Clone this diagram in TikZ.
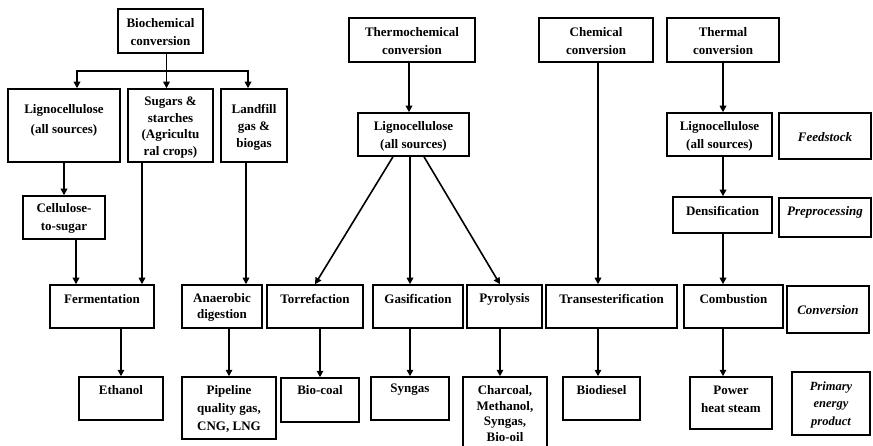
\documentclass[tikz,border=0pt]{standalone}
\usepackage{fontspec}
\setmainfont{Liberation Serif}
\usetikzlibrary{arrows.meta}

\begin{document}
\begin{tikzpicture}[x=1pt, y=-1pt,
  box/.style={draw, line width=1.5pt, inner sep=0pt},
  txt/.style={font=\bfseries\fontsize{13}{18}\selectfont, align=center, inner sep=0pt},
  itx/.style={font=\bfseries\itshape\fontsize{13}{18}\selectfont, align=center, inner sep=0pt},
  link/.style={line width=1.6pt},
  arr/.style={line width=1.6pt, -{Triangle[length=6.5pt, width=6.5pt]}}
]
\useasboundingbox (0,0) rectangle (873,446);

% ---------- top row: conversion routes ----------
\node[box, minimum width=85pt, minimum height=44pt] (bio) at (160.5,31) {};
\node[txt] (bio-t) at (160.5,32.5) {Biochemical\\conversion};

\node[box, minimum width=126pt, minimum height=44pt] (thermo) at (412,40) {};
\node[txt] (thermo-t) at (412,41) {Thermochemical\\conversion};

\node[box, minimum width=114pt, minimum height=44pt] (chem) at (596,40) {};
\node[txt] (chem-t) at (596,41) {Chemical\\conversion};

\node[box, minimum width=112pt, minimum height=44pt] (thermal) at (723,40) {};
\node[txt] (thermal-t) at (723,41) {Thermal\\conversion};

% ---------- feedstock ----------
\node[box, minimum width=112pt, minimum height=73pt] (lig1) at (64,125.5) {};
\node[txt, font=\bfseries\fontsize{13}{20}\selectfont] (lig1-t) at (64,120) {Lignocellulose\\(all sources)};

\node[box, minimum width=85pt, minimum height=73pt] (sugar) at (170.5,125.5) {};
\node[txt, font=\bfseries\fontsize{13}{16.5}\selectfont] (sugar-t) at (170.5,127.5) {Sugars \&\\starches\\(Agricultu\\ral crops)};

\node[box, minimum width=66pt, minimum height=73pt] (land) at (254,125.5) {};
\node[txt, font=\bfseries\fontsize{13}{17}\selectfont] (land-t) at (254,127) {Landfill\\gas \&\\biogas};

\node[box, minimum width=111pt, minimum height=43pt] (lig2) at (413.5,134.5) {};
\node[txt] (lig2-t) at (413.5,136) {Lignocellulose\\(all sources)};

\node[box, minimum width=105pt, minimum height=43pt] (lig3) at (719.5,134.5) {};
\node[txt] (lig3-t) at (719.5,136.5) {Lignocellulose\\(all sources)};

\node[box, minimum width=92pt, minimum height=46pt] (feed) at (825,136) {};
\node[itx] (feed-t) at (825,137) {Feedstock};

% ---------- preprocessing ----------
\node[box, minimum width=82pt, minimum height=43pt] (cell) at (64,217.5) {};
\node[txt] (cell-t) at (64,218.5) {Cellulose-\\to-sugar};

\node[box, minimum width=99pt, minimum height=36pt] (dens) at (722.5,215) {};
\node[txt] (dens-t) at (722.5,211) {Densification};

\node[box, minimum width=92pt, minimum height=39pt] (prep) at (825,217.5) {};
\node[itx] (prep-t) at (825,212) {Preprocessing};

% ---------- conversion ----------
\node[box, minimum width=104pt, minimum height=43pt] (ferm) at (102,306.5) {};
\node[txt] (ferm-t) at (102,299) {Fermentation};

\node[box, minimum width=80pt, minimum height=43pt] (anaer) at (222,306.5) {};
\node[txt, font=\bfseries\fontsize{13}{16}\selectfont] (anaer-t) at (222,307) {Anaerobic\\digestion};

\node[box, minimum width=96pt, minimum height=43pt] (torr) at (315,306.5) {};
\node[txt] (torr-t) at (315,299) {Torrefaction};

\node[box, minimum width=90pt, minimum height=43pt] (gas) at (418,306.5) {};
\node[txt] (gas-t) at (418,299) {Gasification};

\node[box, minimum width=75pt, minimum height=43pt] (pyro) at (504.5,306.5) {};
\node[txt] (pyro-t) at (504.5,299) {Pyrolysis};

\node[box, minimum width=131pt, minimum height=43pt] (trans) at (611.5,306.5) {};
\node[txt] (trans-t) at (611.5,299) {Transesterification};

\node[box, minimum width=99pt, minimum height=43pt] (comb) at (733.5,306.5) {};
\node[txt] (comb-t) at (733.5,299) {Combustion};

\node[box, minimum width=82pt, minimum height=47pt] (conv) at (828,309.5) {};
\node[itx] (conv-t) at (828,310) {Conversion};

% ---------- primary energy products ----------
\node[box, minimum width=84pt, minimum height=43pt] (eth) at (121,398.5) {};
\node[txt] (eth-t) at (121,390) {Ethanol};

\node[box, minimum width=94pt, minimum height=62pt] (pipe) at (229,408) {};
\node[txt] (pipe-t) at (229,408.5) {Pipeline\\quality gas,\\CNG, LNG};

\node[box, minimum width=78pt, minimum height=44pt] (biocoal) at (320,400) {};
\node[txt] (biocoal-t) at (320,390) {Bio-coal};

\node[box, minimum width=78pt, minimum height=43pt] (syngas) at (410,398.5) {};
\node[txt] (syngas-t) at (410,390) {Syngas};

\node[box, minimum width=84pt, minimum height=72pt] (char) at (505,413) {};
\node[txt, font=\bfseries\fontsize{13}{15.7}\selectfont] (char-t) at (505,413.5) {Charcoal,\\Methanol,\\Syngas,\\Bio-oil};

\node[box, minimum width=77pt, minimum height=43pt] (biod) at (601.5,398.5) {};
\node[txt] (biod-t) at (601.5,390) {Biodiesel};

\node[box, minimum width=82pt, minimum height=52pt] (power) at (731,403) {};
\node[txt] (power-t) at (731,399) {Power\\heat steam};

\node[box, minimum width=78pt, minimum height=63pt] (prim) at (831,403.5) {};
\node[itx, font=\bfseries\itshape\fontsize{12.5}{17.5}\selectfont] (prim-t) at (831,404.5) {Primary\\energy\\product};

% ---------- connectors: biochemical branch ----------
\coordinate (split) at (166.5,71);
\draw[link] ([xshift=6pt]bio.south) -- (split);
\draw[arr] (split) -| ([xshift=13pt]lig1.north);
\draw[arr] (split) -| ([xshift=-6pt]land.north);
\draw[arr] (split) -- (split |- sugar.north);
\draw[arr] (lig1.south) -- (cell.north);
\draw[arr] ([xshift=12pt]cell.south) -- ([xshift=12pt]cell.south |- ferm.north);
\draw[arr] ([xshift=-28.5pt]sugar.south) -- ([xshift=-28.5pt]sugar.south |- ferm.north);
\draw[arr] ([xshift=-8pt]land.south) -- ([xshift=-8pt]land.south |- anaer.north);
\draw[arr] (eth.north |- ferm.south) -- (eth.north);
\draw[arr] (pipe.north |- anaer.south) -- (pipe.north);

% ---------- connectors: thermochemical branch ----------
\draw[arr] ([xshift=-4.5pt]lig2.north |- thermo.south) -- ([xshift=-4.5pt]lig2.north);
\draw[arr] ([xshift=-20.5pt]lig2.south) -- (torr.north);
\draw[arr] ([xshift=-3.5pt]lig2.south) -- ([xshift=-3.5pt]lig2.south |- gas.north);
\draw[arr] ([xshift=10.5pt]lig2.south) -- ([xshift=-4.5pt]pyro.north);
\draw[arr] (biocoal.north |- torr.south) -- (biocoal.north);
\draw[arr] (syngas.north |- gas.south) -- (syngas.north);
\draw[arr] ([xshift=-4.5pt]pyro.south) -- ([xshift=-4.5pt]pyro.south |- char.north);

% ---------- connectors: chemical branch ----------
\draw[arr] ([xshift=2pt]chem.south) -- ([xshift=2pt]chem.south |- trans.north);
\draw[arr] ([xshift=2pt]chem.south |- trans.south) -- ([xshift=2pt]chem.south |- biod.north);

% ---------- connectors: thermal branch ----------
\draw[arr] (thermal.south) -- (thermal.south |- lig3.north);
\draw[arr] (thermal.south |- lig3.south) -- (thermal.south |- dens.north);
\draw[arr] (thermal.south |- dens.south) -- (thermal.south |- comb.north);
\draw[arr] (thermal.south |- comb.south) -- (thermal.south |- power.north);
\end{tikzpicture}
\end{document}
